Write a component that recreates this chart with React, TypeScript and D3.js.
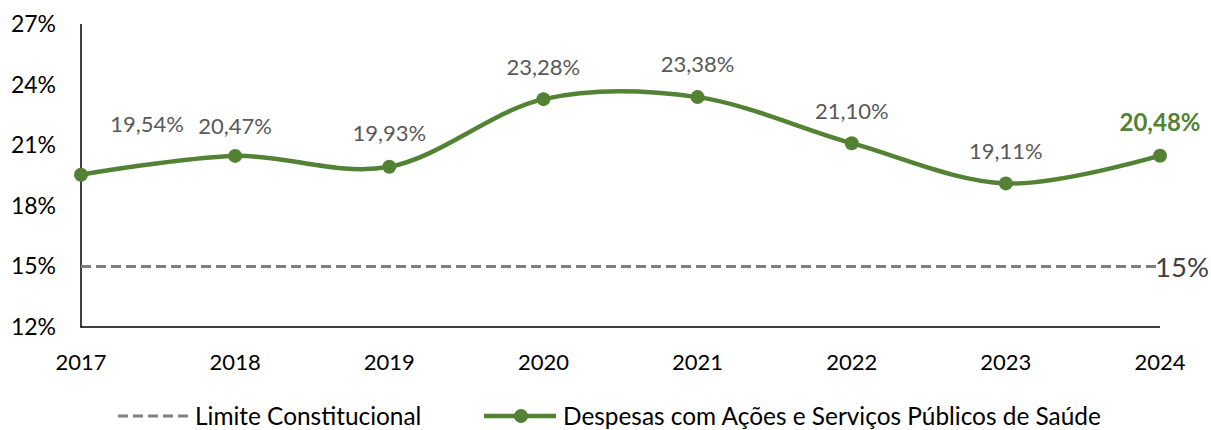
import React from "react";
import * as d3 from "d3";

const years = ["2017", "2018", "2019", "2020", "2021", "2022", "2023", "2024"];
const despesas = [19.54, 20.47, 19.93, 23.28, 23.38, 21.1, 19.11, 20.48];
const limite = 15;
const yTicks = [12, 15, 18, 21, 24, 27];
const labelTexts = ["19,54%", "20,47%", "19,93%", "23,28%", "23,38%", "21,10%", "19,11%", "20,48%"];

const W = 1211;
const H = 430;
const FONT = "Lato, 'Open Sans', sans-serif";
const GREEN = "#548235";
const GRAY = "#7f7f7f";

export default function App() {
  const x = d3.scalePoint<string>().domain(years).range([81, 1160]);
  const y = d3.scaleLinear().domain([12, 27]).range([327, 24]);

  const line = d3
    .line<number>()
    .x((_, i) => x(years[i]) as number)
    .y((d) => y(d))
    .curve(d3.curveCardinal.tension(0));

  // label center offsets (dx, dy) relative to point
  const offsets: [number, number][] = [
    [66, -50],
    [0, -30],
    [0, -34],
    [0, -32],
    [0, -33],
    [0, -32],
    [0, -32],
    [0, -33],
  ];

  return (
    <svg
      width={W}
      height={H}
      style={{ position: "absolute", left: 0, top: 0, background: "#fff" }}
      fontFamily={FONT}
    >
      {/* axes */}
      <line x1={81} x2={81} y1={y(27)} y2={y(12) + 0.5} stroke="#000" strokeWidth={1.5} />
      <line x1={80.5} x2={1160} y1={y(12)} y2={y(12)} stroke="#000" strokeWidth={1.5} />

      {yTicks.map((t) => (
        <text key={t} x={56} y={y(t)} dy="0.35em" textAnchor="end" fontSize={23} fill="#000">
          {t}%
        </text>
      ))}

      {years.map((yr) => (
        <text key={yr} x={x(yr)} y={362} dy="0.35em" textAnchor="middle" fontSize={22} fill="#000">
          {yr}
        </text>
      ))}

      {/* limite */}
      <line
        x1={x(years[0])}
        x2={x(years[years.length - 1])}
        y1={y(limite)}
        y2={y(limite)}
        stroke={GRAY}
        strokeWidth={3}
        strokeDasharray="10 5"
      />
      <text x={1155} y={y(limite)} dy="0.37em" fontSize={27.5} fill="#404040">
        {limite}%
      </text>

      {/* series */}
      <path d={line(despesas) || ""} fill="none" stroke={GREEN} strokeWidth={4.5} />
      {despesas.map((v, i) => (
        <circle key={i} cx={x(years[i])} cy={y(v)} r={7} fill={GREEN} />
      ))}
      {despesas.map((v, i) => {
        const last = i === despesas.length - 1;
        return (
          <text
            key={"l" + i}
            x={(x(years[i]) as number) + offsets[i][0]}
            y={y(v) + offsets[i][1]}
            dy="0.35em"
            textAnchor="middle"
            fontSize={last ? 24 : 22}
            fontWeight={last ? "bold" : "normal"}
            fill={last ? GREEN : "#595959"}
          >
            {labelTexts[i]}
          </text>
        );
      })}

      {/* legend */}
      <line x1={118} x2={188} y1={416} y2={416} stroke={GRAY} strokeWidth={3} strokeDasharray="10 5" />
      <text x={195} y={416} dy="0.35em" fontSize={24.4} fill="#000">
        Limite Constitucional
      </text>
      <line x1={484} x2={556} y1={416} y2={416} stroke={GREEN} strokeWidth={4.5} />
      <circle cx={521} cy={416} r={7} fill={GREEN} />
      <text x={563} y={416} dy="0.35em" fontSize={24.4} fill="#000">
        Despesas com Ações e Serviços Públicos de Saúde
      </text>
    </svg>
  );
}
